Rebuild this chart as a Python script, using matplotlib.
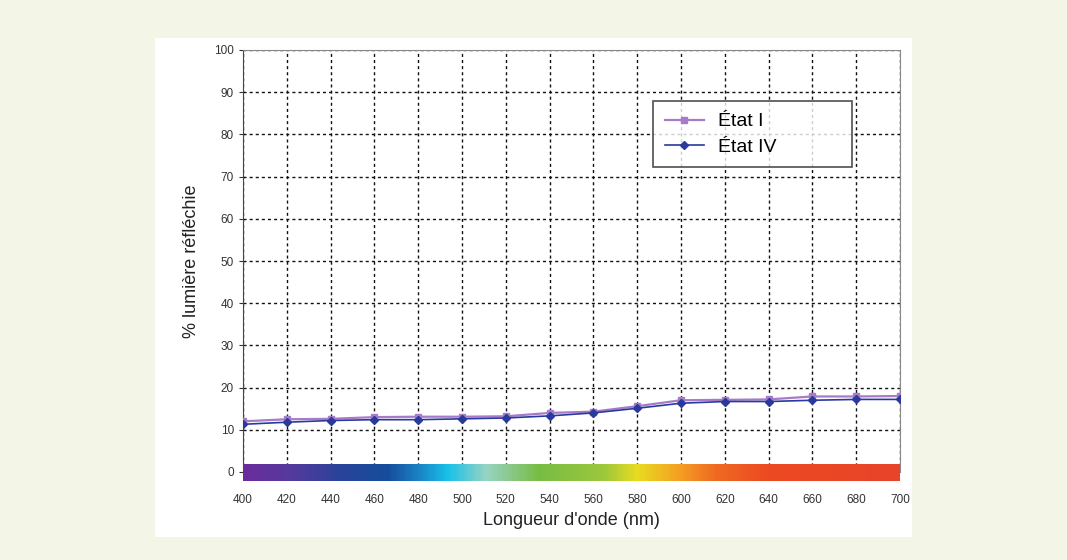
import numpy as np
import matplotlib
matplotlib.use("Agg")
import matplotlib.pyplot as plt
from matplotlib.colors import LinearSegmentedColormap

plt.rcParams['font.family'] = ['Liberation Sans', 'DejaVu Sans']

wavelengths = [400, 420, 440, 460, 480, 500, 520, 540, 560, 580, 600, 620, 640, 660, 680, 700]
etat_I = [12.0, 12.5, 12.6, 13.0, 13.1, 13.1, 13.2, 14.0, 14.3, 15.6, 17.0, 17.1, 17.2, 17.9, 17.9, 18.0]
etat_IV = [11.3, 11.8, 12.2, 12.4, 12.4, 12.6, 12.8, 13.3, 14.0, 15.1, 16.3, 16.7, 16.7, 17.0, 17.2, 17.2]
series_labels = ["État I", "État IV"]
x_ticks = list(range(400, 701, 20))
y_ticks = list(range(0, 101, 10))

spectrum_stops = [0.0, 0.07, 0.15, 0.22, 0.27, 0.31, 0.37, 0.45, 0.55, 0.6, 0.66, 0.72, 0.8, 1.0]
spectrum_colors = ["#6a2c9c", "#553a9c", "#27449a", "#164e9c", "#1a88c8", "#18c0e8", "#98d4c4",
                   "#78bc44", "#9cc83c", "#e8dc20", "#f4a422", "#f06a22", "#ec4a22", "#e8442a"]

fig = plt.figure(figsize=(10.67, 5.6), dpi=100)
fig.patch.set_facecolor("#f3f5e6")

bg = fig.add_axes([155/1067, 1-537/560, (912-155)/1067, (537-38)/560], zorder=0)
bg.set_facecolor("white")
bg.set_xticks([]); bg.set_yticks([])
for s in bg.spines.values():
    s.set_visible(False)

ax = fig.add_axes([243/1067, 1-472/560, (900-243)/1067, (472-50)/560], zorder=1)
ax.set_facecolor("white")

cmap = LinearSegmentedColormap.from_list("spec", list(zip(spectrum_stops, spectrum_colors)))
grad = np.linspace(0, 1, 600).reshape(1, -1)
ax.imshow(grad, cmap=cmap, aspect="auto", extent=(400, 700, -2.1, 1.7), zorder=3, clip_on=False)
ax.set_xlim(400, 700)
ax.set_ylim(0, 100)

ax.set_xticks(x_ticks)
ax.set_yticks(y_ticks)
ax.grid(True, linestyle=(0, (2.2, 2.2)), color="#111111", linewidth=1.0)
ax.tick_params(axis="both", labelsize=8.5, colors="#333333", length=3)
ax.tick_params(axis="x", pad=16, length=0)
for s in ax.spines.values():
    s.set_color("#888888")
ax.spines["left"].set_color("#444444")

ax.plot(wavelengths, etat_I, color="#a67cc8", marker="s", markersize=4.5, linewidth=1.6,
        label=series_labels[0], zorder=4)
ax.plot(wavelengths, etat_IV, color="#2a3a9c", marker="D", markersize=4, linewidth=1.2,
        label=series_labels[1], zorder=5)

ax.set_xlabel("Longueur d'onde (nm)", fontsize=13, color="#222222", labelpad=4)
ax.set_ylabel("% lumière réfléchie", fontsize=13, color="#222222", labelpad=10)

leg = ax.legend(loc="upper left", bbox_to_anchor=(0.624, 0.72, 0.303, 0.159), mode="expand",
                fontsize=14, frameon=True, fancybox=False, edgecolor="#222222",
                handlelength=2.0, handletextpad=0.75, borderpad=0.6, labelspacing=0.4,
                borderaxespad=0)
leg.get_frame().set_linewidth(1.2)

fig.savefig("out.png", dpi=100, facecolor=fig.get_facecolor())
